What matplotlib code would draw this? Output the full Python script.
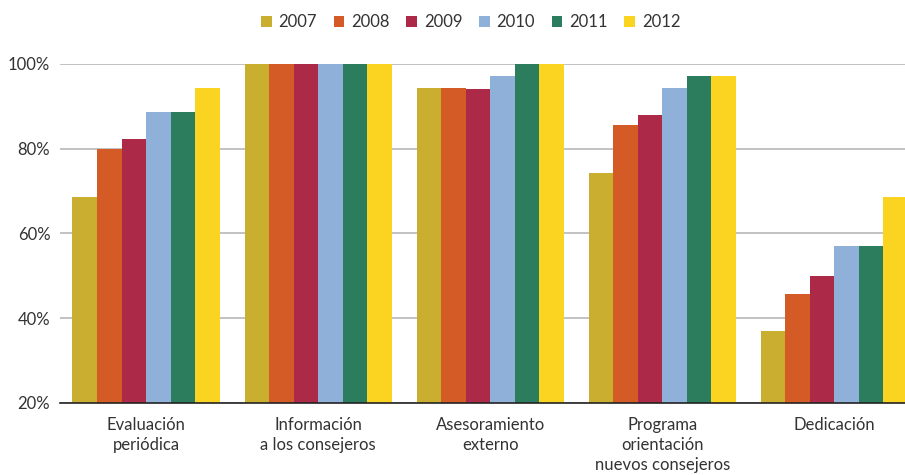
import numpy as np
import matplotlib.pyplot as plt

plt.rcParams['font.family'] = ['Lato', 'DejaVu Sans']

# Data (percent of companies)
categories = ['Evaluación\nperiódica', 'Información\na los consejeros', 'Asesoramiento\nexterno',
              'Programa\norientación\nnuevos consejeros', 'Dedicación']
years = ['2007', '2008', '2009', '2010', '2011', '2012']
v2007 = [68.6, 100.0, 94.3, 74.3, 37.1]
v2008 = [80.0, 100.0, 94.3, 85.7, 45.7]
v2009 = [82.4, 100.0, 94.0, 88.0, 50.0]
v2010 = [88.6, 100.0, 97.1, 94.3, 57.1]
v2011 = [88.6, 100.0, 100.0, 97.1, 57.1]
v2012 = [94.3, 100.0, 100.0, 97.1, 68.6]
series = [v2007, v2008, v2009, v2010, v2011, v2012]
colors = ['#C9AE30', '#D45A26', '#AC2A48', '#8FB0D8', '#2B7D5D', '#FBD321']

fig = plt.figure(figsize=(9.05, 4.75), dpi=100)
ax = fig.add_axes([0.0663, 0.1516, 0.9337, 0.7137])

x = np.arange(len(categories))
width = 0.1425
for i, (vals, col, yr) in enumerate(zip(series, colors, years)):
    offs = (i - 2.5) * width
    ax.bar(x + offs, np.array(vals) - 20, width, bottom=20, color=col,
           label=yr, zorder=3, linewidth=0)

ax.set_ylim(20, 100)
ax.set_xlim(-0.5, 4.41)
ax.set_yticks([20, 40, 60, 80, 100])
ax.set_yticklabels(['20%', '40%', '60%', '80%', '100%'], fontsize=12, color='#333333')
ax.set_xticks(x)
ax.set_xticklabels(categories, fontsize=12, color='#333333', linespacing=1.32)
ax.tick_params(axis='y', length=0, pad=7)
ax.tick_params(axis='x', length=0, pad=10)
ax.grid(axis='y', color='#b8b8b8', linewidth=1.2, zorder=0)
for s in ['top', 'right', 'left']:
    ax.spines[s].set_visible(False)
ax.spines['bottom'].set_color('#222222')
ax.spines['bottom'].set_linewidth(1.2)
ax.spines['bottom'].set_zorder(4)

fig.legend(loc='center', bbox_to_anchor=(0.52, 0.953), ncol=6, frameon=False,
           fontsize=12, handlelength=0.65, handleheight=0.65, handletextpad=0.4,
           columnspacing=1.0, labelcolor='#333333')

fig.savefig('out.png', dpi=100)
